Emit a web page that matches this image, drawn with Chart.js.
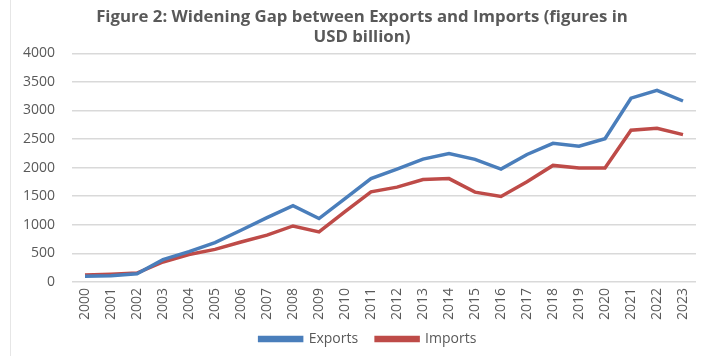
<!DOCTYPE html>
<html>
<head>
<meta charset="utf-8">
<script src="https://cdn.jsdelivr.net/npm/chart.js@4/dist/chart.umd.min.js"></script>
<style>
html,body{margin:0;padding:0;background:#fff;}
#wrap{position:relative;width:718px;height:356px;}
#edge{position:absolute;left:10px;top:0;width:1px;height:356px;background:#e6e6e6;}
canvas{position:absolute;left:0;top:0;}
</style>
</head>
<body>
<div id="wrap"><div id="edge"></div><canvas id="c" width="718" height="356"></canvas></div>
<script>
const years = ['2000','2001','2002','2003','2004','2005','2006','2007','2008','2009','2010','2011','2012','2013','2014','2015','2016','2017','2018','2019','2020','2021','2022','2023'];
const exportsUSD = [100,110,145,390,530,690,905,1125,1335,1110,1460,1810,1975,2150,2245,2145,1975,2230,2425,2375,2505,3215,3353,3166];
const importsUSD = [120,135,155,350,480,570,700,820,980,876,1230,1578,1659,1793,1808,1571,1495,1752,2039,1995,1992,2655,2687,2577];
const yTicks = [0,500,1000,1500,2000,2500,3000,3500,4000];
const titleLines = ['Figure 2: Widening Gap between Exports and Imports (figures in','USD billion)'];

const blue = '#4A7EBB';
const red = '#BE4B48';

const shiftLegend = {
  id: 'shiftLegend',
  afterLayout(chart) {
    const l = chart.legend;
    if (l) { l.left += 6; l.right += 6; }
  }
};

new Chart(document.getElementById('c'), {
  type: 'line',
  data: {
    labels: years,
    datasets: [
      {label:'Exports', data: exportsUSD, borderColor: blue, backgroundColor: blue, borderWidth: 3.5, pointRadius: 0, tension: 0},
      {label:'Imports', data: importsUSD, borderColor: red, backgroundColor: red, borderWidth: 3.5, pointRadius: 0, tension: 0}
    ]
  },
  plugins: [shiftLegend],
  options: {
    responsive: false,
    animation: false,
    layout: {padding: {left: 28, right: 22, top: 7, bottom: 0}},
    plugins: {
      title: {
        display: true,
        text: titleLines,
        color: '#595959',
        font: {family: 'Open Sans', size: 16.8, weight: 'bold'},
        lineHeight: 1.08,
        padding: {top: 0, bottom: 6}
      },
      legend: {
        position: 'bottom',
        labels: {
          boxWidth: 42, boxHeight: 3,
          color: '#595959',
          font: {family: 'Open Sans', size: 14},
          padding: 18
        }
      },
      tooltip: {enabled: false}
    },
    scales: {
      x: {
        offset: true,
        afterFit: (s) => { s.height -= 12; s._computeLabelArea = () => undefined; },
        grid: {display: false, drawTicks: false},
        border: {display: false},
        ticks: {color: '#595959', font: {family: 'Open Sans', size: 14}, maxRotation: 90, minRotation: 90, autoSkip: false, padding: 6}
      },
      y: {
        min: 0, max: 4000,
        afterBuildTicks: (s) => { s.ticks = yTicks.map(v => ({value: v})); },
        afterFit: (s) => { s.width = 44; s._computeLabelArea = () => undefined; },
        grid: {color: '#d9d9d9', lineWidth: 1.5, drawTicks: false},
        border: {display: false},
        ticks: {color: '#595959', font: {family: 'Open Sans', size: 14}, padding: 17, callback: (v) => String(v)}
      }
    }
  }
});
</script>
</body>
</html>
